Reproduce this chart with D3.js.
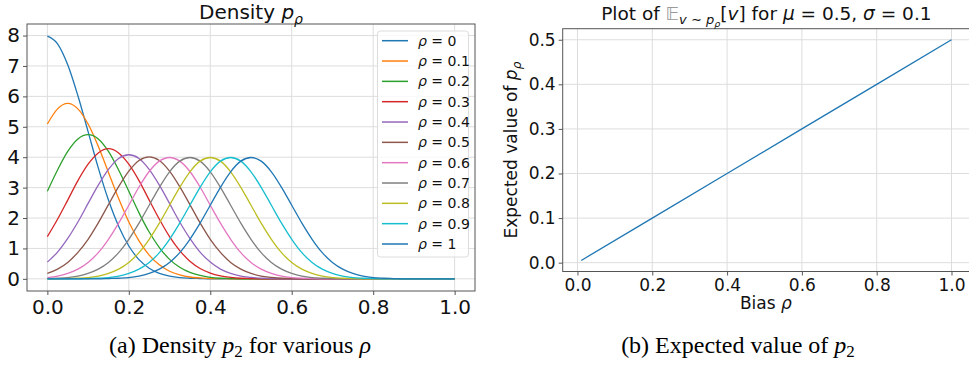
<!DOCTYPE html>
<html><head><meta charset="utf-8">
<script src="https://cdn.jsdelivr.net/npm/d3@7"></script>
<style>
html,body{margin:0;padding:0;background:#fff;}
</style></head>
<body><svg id="c" width="969" height="365"></svg>
<script>
// ---------- data ----------
const xGrid = [0,0.025,0.05,0.075,0.1,0.125,0.15,0.175,0.2,0.225,0.25,0.275,0.3,0.325,0.35,0.375,0.4,0.425,0.45,0.475,0.5,0.525,0.55,0.575,0.6,0.625,0.65,0.675,0.7,0.725,0.75,0.775,0.8,0.825,0.85,0.875,0.9,0.925,0.95,0.975,1.0];
const rhoLabels = ["0","0.1","0.2","0.3","0.4","0.5","0.6","0.7","0.8","0.9","1"];
const dens0  = [7.98,7.73,7.04,6.02,4.84,3.65,2.59,1.73,1.08,0.63,0.35,0.18,0.09,0.04,0.02,0.01,0,0,0,0,0,0,0,0,0,0,0,0,0,0,0,0,0,0,0,0,0,0,0,0,0];
const dens1  = [5.09,5.59,5.77,5.59,5.09,4.36,3.50,2.64,1.87,1.25,0.78,0.46,0.25,0.13,0.06,0.03,0.01,0.01,0,0,0,0,0,0,0,0,0,0,0,0,0,0,0,0,0,0,0,0,0,0,0];
const dens2  = [2.88,3.58,4.19,4.60,4.74,4.60,4.19,3.58,2.88,2.17,1.54,1.03,0.64,0.38,0.21,0.11,0.05,0.02,0.01,0,0,0,0,0,0,0,0,0,0,0,0,0,0,0,0,0,0,0,0,0,0];
const dens3  = [1.39,1.96,2.59,3.23,3.77,4.14,4.28,4.14,3.77,3.23,2.59,1.96,1.39,0.93,0.58,0.34,0.19,0.10,0.05,0.02,0.01,0,0,0,0,0,0,0,0,0,0,0,0,0,0,0,0,0,0,0,0];
const dens4  = [0.55,0.88,1.33,1.87,2.48,3.08,3.60,3.96,4.08,3.96,3.60,3.08,2.48,1.87,1.33,0.88,0.55,0.32,0.18,0.09,0.05,0.02,0.01,0,0,0,0,0,0,0,0,0,0,0,0,0,0,0,0,0,0];
const dens5  = [0.18,0.32,0.54,0.87,1.30,1.84,2.44,3.03,3.54,3.89,4.01,3.89,3.54,3.03,2.44,1.84,1.30,0.87,0.54,0.32,0.18,0.09,0.05,0.02,0.01,0,0,0,0,0,0,0,0,0,0,0,0,0,0,0,0];
const dens6  = [0.04,0.09,0.18,0.32,0.54,0.86,1.30,1.83,2.42,3.02,3.53,3.87,3.99,3.87,3.53,3.02,2.42,1.83,1.30,0.86,0.54,0.32,0.18,0.09,0.04,0.02,0.01,0,0,0,0,0,0,0,0,0,0,0,0,0,0];
const dens7  = [0.01,0.02,0.04,0.09,0.18,0.32,0.54,0.86,1.30,1.83,2.42,3.01,3.52,3.87,3.99,3.87,3.52,3.01,2.42,1.83,1.30,0.86,0.54,0.32,0.18,0.09,0.04,0.02,0.01,0,0,0,0,0,0,0,0,0,0,0,0];
const dens8  = [0,0,0.01,0.02,0.04,0.09,0.18,0.32,0.54,0.86,1.30,1.83,2.42,3.01,3.52,3.87,3.99,3.87,3.52,3.01,2.42,1.83,1.30,0.86,0.54,0.32,0.18,0.09,0.04,0.02,0.01,0,0,0,0,0,0,0,0,0,0];
const dens9  = [0,0,0,0,0.01,0.02,0.04,0.09,0.18,0.32,0.54,0.86,1.30,1.83,2.42,3.01,3.52,3.87,3.99,3.87,3.52,3.01,2.42,1.83,1.30,0.86,0.54,0.32,0.18,0.09,0.04,0.02,0.01,0,0,0,0,0,0,0,0];
const dens10 = [0,0,0,0,0,0,0.01,0.02,0.04,0.09,0.18,0.32,0.54,0.86,1.30,1.83,2.42,3.01,3.52,3.87,3.99,3.87,3.52,3.01,2.42,1.83,1.30,0.86,0.54,0.32,0.18,0.09,0.04,0.02,0.01,0,0,0,0,0,0];
const densities = [dens0,dens1,dens2,dens3,dens4,dens5,dens6,dens7,dens8,dens9,dens10];
const leftYTicks = [0,1,2,3,4,5,6,7,8];
const leftXTicks = [0,0.2,0.4,0.6,0.8,1.0];

const biasRho = [0.01,0.2,0.4,0.6,0.8,1.0];
const expectedVal = [0.005,0.1,0.2,0.3,0.4,0.5];
const rightYTicks = [0,0.1,0.2,0.3,0.4,0.5];
const rightXTicks = [0,0.2,0.4,0.6,0.8,1.0];

const colors = ["#1f77b4","#ff7f0e","#2ca02c","#d62728","#9467bd","#8c564b","#e377c2","#7f7f7f","#bcbd22","#17becf","#1f77b4"];

// ---------- drawing ----------
const svg = d3.select("#c");
const SANS = "DejaVu Sans, sans-serif", SERIF = "Liberation Serif, serif";
const gridCol = "#dddddd", spineCol = "#555";

// Left panel
const L = {x0:27, x1:475, y0:24, y1:291};
const xL = d3.scaleLinear().domain([-0.05,1.05]).range([L.x0,L.x1]);
const yL = d3.scaleLinear().domain([-0.4,8.38]).range([L.y1,L.y0]);
const gL = svg.append("g").style("font-family",SANS);
gL.append("g").selectAll("line").data(leftXTicks).join("line")
  .attr("x1",d=>xL(d)).attr("x2",d=>xL(d)).attr("y1",L.y0).attr("y2",L.y1)
  .attr("stroke",gridCol).attr("stroke-width",1);
gL.append("g").selectAll("line").data(leftYTicks).join("line")
  .attr("y1",d=>yL(d)).attr("y2",d=>yL(d)).attr("x1",L.x0).attr("x2",L.x1)
  .attr("stroke",gridCol).attr("stroke-width",1);
svg.append("clipPath").attr("id","clipL").append("rect")
  .attr("x",L.x0).attr("y",L.y0).attr("width",L.x1-L.x0).attr("height",L.y1-L.y0);
const lineL = d3.line().x((d,i)=>xL(xGrid[i])).y(d=>yL(d)).curve(d3.curveMonotoneX);
gL.append("g").attr("clip-path","url(#clipL)").selectAll("path").data(densities).join("path")
  .attr("d",d=>lineL(d)).attr("fill","none").attr("stroke",(d,i)=>colors[i]).attr("stroke-width",1.3);
const axLB = gL.append("g").attr("transform",`translate(0,${L.y1})`)
  .call(d3.axisBottom(xL).tickValues(leftXTicks).tickFormat(d3.format(".1f")).tickSize(4).tickPadding(5));
const axLL = gL.append("g").attr("transform",`translate(${L.x0},0)`)
  .call(d3.axisLeft(yL).tickValues(leftYTicks).tickFormat(d3.format("d")).tickSize(4).tickPadding(3));
[axLB,axLL].forEach(a=>{a.select(".domain").remove();a.selectAll("line").attr("stroke",spineCol);
  a.selectAll("text").attr("font-size",20).attr("fill","#111").style("font-family",SANS);});
gL.append("rect").attr("x",L.x0).attr("y",L.y0).attr("width",L.x1-L.x0).attr("height",L.y1-L.y0)
  .attr("fill","none").attr("stroke",spineCol).attr("stroke-width",1);
// title
const tL = gL.append("text").attr("x",(L.x0+L.x1)/2).attr("y",19).attr("text-anchor","middle").attr("font-size",20).attr("fill","#111");
tL.append("tspan").text("Density ");
tL.append("tspan").attr("font-style","italic").text("p");
tL.append("tspan").attr("font-style","italic").attr("font-size",14).attr("dy",5).text("ρ");
// legend
const lg = gL.append("g");
lg.append("rect").attr("x",377.5).attr("y",31).attr("width",91).attr("height",226).attr("rx",3)
  .attr("fill","#fff").attr("fill-opacity",0.8).attr("stroke","#ddd").attr("stroke-width",1);
const le = lg.selectAll("g.e").data(rhoLabels).join("g").attr("class","e")
  .attr("transform",(d,i)=>`translate(0,${40.7+i*20.33})`);
le.append("line").attr("x1",382).attr("x2",408).attr("stroke",(d,i)=>colors[i]).attr("stroke-width",1.5);
const lt = le.append("text").attr("x",418).attr("y",5).attr("font-size",14).attr("fill","#111");
lt.append("tspan").attr("font-style","italic").text("ρ");
lt.append("tspan").text(d=>" = "+d);

// Right panel
const R = {x0:562.7, x1:970, y0:28.7, y1:271.5};
const xR = d3.scaleLinear().domain([-0.0395,1.0495]).range([R.x0,R.x1]);
const yR = d3.scaleLinear().domain([-0.0198,0.52475]).range([R.y1,R.y0]);
const gR = svg.append("g").style("font-family",SANS);
gR.append("g").selectAll("line").data(rightXTicks).join("line")
  .attr("x1",d=>xR(d)).attr("x2",d=>xR(d)).attr("y1",R.y0).attr("y2",R.y1)
  .attr("stroke",gridCol).attr("stroke-width",1);
gR.append("g").selectAll("line").data(rightYTicks).join("line")
  .attr("y1",d=>yR(d)).attr("y2",d=>yR(d)).attr("x1",R.x0).attr("x2",R.x1)
  .attr("stroke",gridCol).attr("stroke-width",1);
const lineR = d3.line().x((d,i)=>xR(biasRho[i])).y(d=>yR(d));
gR.append("path").attr("d",lineR(expectedVal)).attr("fill","none").attr("stroke","#1f77b4").attr("stroke-width",1.3);
const axRB = gR.append("g").attr("transform",`translate(0,${R.y1})`)
  .call(d3.axisBottom(xR).tickValues(rightXTicks).tickFormat(d3.format(".1f")).tickSize(4).tickPadding(3));
const axRL = gR.append("g").attr("transform",`translate(${R.x0},0)`)
  .call(d3.axisLeft(yR).tickValues(rightYTicks).tickFormat(d3.format(".1f")).tickSize(4).tickPadding(3));
[axRB,axRL].forEach(a=>{a.select(".domain").remove();a.selectAll("line").attr("stroke",spineCol);
  a.selectAll("text").attr("font-size",17).attr("fill","#111").style("font-family",SANS);});
gR.append("rect").attr("x",R.x0).attr("y",R.y0).attr("width",R.x1-R.x0).attr("height",R.y1-R.y0)
  .attr("fill","none").attr("stroke",spineCol).attr("stroke-width",1);
// right title
const tR = gR.append("text").attr("x",(R.x0+R.x1)/2).attr("y",20).attr("text-anchor","middle").attr("font-size",18.5).attr("fill","#111");
tR.append("tspan").text("Plot of ");
tR.append("tspan").attr("fill","#999").text("𝔼");
tR.append("tspan").attr("font-style","italic").attr("font-size",13).attr("dy",4).text("v");
tR.append("tspan").attr("font-size",13).text(" ∼ ");
tR.append("tspan").attr("font-style","italic").attr("font-size",13).text("p");
tR.append("tspan").attr("font-style","italic").attr("font-size",9.5).attr("dy",3).text("ρ");
tR.append("tspan").attr("dy",-7).text("[");
tR.append("tspan").attr("font-style","italic").text("v");
tR.append("tspan").text("] for ");
tR.append("tspan").attr("font-style","italic").text("μ");
tR.append("tspan").text(" = 0.5, ");
tR.append("tspan").attr("font-style","italic").text("σ");
tR.append("tspan").text(" = 0.1");
// x label
const xl = gR.append("text").attr("x",(R.x0+R.x1)/2-0.5).attr("y",309).attr("text-anchor","middle").attr("font-size",17).attr("fill","#111");
xl.append("tspan").text("Bias ");
xl.append("tspan").attr("font-style","italic").text("ρ");
// y label
const yl = gR.append("text").attr("transform",`translate(517,${(R.y0+R.y1)/2}) rotate(-90)`).attr("text-anchor","middle").attr("font-size",17).attr("fill","#111");
yl.append("tspan").text("Expected value of ");
yl.append("tspan").attr("font-style","italic").text("p");
yl.append("tspan").attr("font-style","italic").attr("font-size",12).attr("dy",4).text("ρ");

// captions
const capA = svg.append("text").attr("x",240).attr("y",353).attr("text-anchor","middle")
  .style("font-family",SERIF).attr("font-size",24).attr("fill","#000");
capA.append("tspan").text("(a) Density ");
capA.append("tspan").attr("font-style","italic").text("p");
capA.append("tspan").attr("font-size",17).attr("dy",4).text("2");
capA.append("tspan").attr("dy",-4).text(" for various ");
capA.append("tspan").attr("font-style","italic").text("ρ");
const capB = svg.append("text").attr("x",738).attr("y",353).attr("text-anchor","middle")
  .style("font-family",SERIF).attr("font-size",24).attr("fill","#000");
capB.append("tspan").text("(b) Expected value of ");
capB.append("tspan").attr("font-style","italic").text("p");
capB.append("tspan").attr("font-size",17).attr("dy",4).text("2");
</script>
</body></html>
